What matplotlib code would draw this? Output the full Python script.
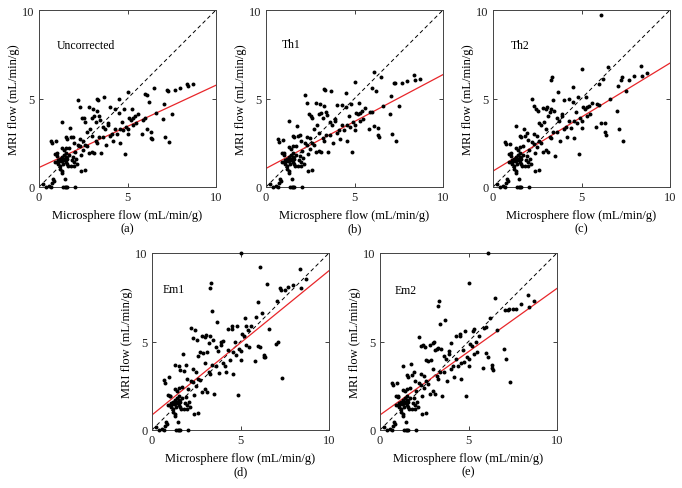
import matplotlib
matplotlib.use("Agg")
import matplotlib.pyplot as plt

# Microsphere flow (same samples in every panel)
micro = [0.25, 0.4, 0.55, 0.65, 0.75, 0.8, 0.85, 1.35, 1.45, 1.55,
         1.6, 2.05, 1.45, 1.3, 0.65, 0.75, 0.95, 1.3, 0.9, 1.0,
         1.05, 1.0, 1.1, 1.1, 1.2, 1.2, 1.25, 1.3, 1.3, 1.35,
         1.4, 1.4, 1.45, 1.5, 1.5, 1.55, 1.6, 1.6, 1.65, 1.7,
         1.8, 1.2, 1.3, 1.0, 0.9, 1.4, 1.3, 1.5, 1.7, 1.5,
         1.6, 1.75, 1.8, 1.9, 2.0, 2.05, 2.1, 2.15, 2.2, 2.3,
         2.35, 2.6, 2.2, 2.3, 2.45, 2.55, 2.6, 2.7, 2.8, 2.9,
         3.0, 3.05, 3.1, 3.2, 3.25, 3.35, 3.3, 3.4, 3.45, 3.6,
         3.7, 3.75, 3.8, 3.9, 4.0, 4.1, 4.2, 4.3, 4.5, 4.5,
         4.6, 4.7, 4.75, 4.8, 4.85, 4.9, 5.0, 5.0, 5.1, 5.2,
         5.25, 5.3, 5.4, 5.5, 5.6, 5.8, 5.9, 6.0, 6.0, 6.1,
         6.1, 6.2, 6.3, 6.35, 6.4, 6.5, 6.6, 7.0, 7.05, 7.1,
         7.3, 7.25, 7.35, 7.5, 7.7, 7.95, 8.35, 8.4, 8.7, 2.5,
         2.6, 2.8, 3.0, 3.2, 3.1, 3.4, 3.5, 3.3, 2.7, 2.4,
         1.9, 1.95, 2.0, 1.85, 2.3, 2.5, 4.4, 3.9, 3.6, 4.0,
         4.6, 5.05, 5.3, 4.3, 3.0]

mri_uncorr = [0.15, 0.0, 0.05, 0.0, 0.2, 0.45, 0.35, 0.0, 0.0, 0.0,
              0.0, 0.0, 0.45, 0.8, 2.6, 2.5, 2.6, 3.7, 1.85, 1.75,
              1.4, 1.4, 1.3, 1.5, 1.6, 1.2, 1.45, 1.5, 1.7, 1.3,
              1.6, 1.8, 1.5, 1.4, 1.7, 1.9, 1.6, 1.3, 1.2, 1.8,
              1.2, 1.0, 0.9, 1.9, 1.4, 2.1, 2.2, 2.2, 2.2, 2.8,
              2.7, 3.35, 2.8, 2.85, 2.5, 2.0, 1.6, 1.3, 2.4, 2.3,
              0.9, 0.95, 4.9, 4.5, 3.9, 3.9, 3.7, 3.1, 4.5, 3.3,
              3.9, 4.4, 4.0, 3.7, 5.0, 4.9, 4.3, 4.0, 3.8, 3.4,
              5.1, 3.3, 2.4, 3.5, 4.5, 3.0, 2.6, 4.4, 5.0, 4.2,
              3.3, 3.7, 3.2, 4.4, 1.85, 3.4, 5.35, 3.0, 3.9, 3.8,
              4.4, 3.9, 4.0, 3.6, 4.1, 3.0, 3.8, 5.25, 3.9, 5.2,
              3.3, 4.8, 3.1, 2.75, 2.7, 5.6, 4.2, 3.85, 4.7, 2.8,
              5.4, 5.5, 2.55, 4.1, 5.5, 5.6, 5.8, 5.7, 5.8, 2.1,
              2.4, 1.9, 2.0, 2.6, 1.9, 2.8, 1.9, 2.5, 2.3, 1.8,
              1.7, 1.4, 1.2, 1.5, 2.7, 2.6, 3.0, 3.6, 2.8, 2.9,
              2.5, 3.3, 3.5, 3.3, 2.9]

mri_th1 = [0.15, 0.0, 0.05, 0.0, 0.2, 0.45, 0.35, 0.0, 0.0, 0.0,
           0.0, 0.0, 0.45, 0.8, 2.7, 2.55, 2.65, 3.75, 1.9, 1.8,
           1.4, 1.4, 1.3, 1.5, 1.6, 1.2, 1.45, 1.5, 1.7, 1.3,
           1.6, 1.8, 1.5, 1.4, 1.7, 1.9, 1.6, 1.3, 1.2, 1.8,
           1.2, 1.0, 0.9, 1.9, 1.4, 2.15, 2.25, 2.3, 2.3, 2.9,
           2.85, 3.45, 2.9, 2.95, 2.6, 2.05, 1.65, 1.3, 2.5, 2.4,
           0.9, 0.95, 5.2, 4.75, 4.15, 4.0, 3.9, 3.25, 4.75, 3.5,
           4.1, 4.7, 4.2, 3.9, 5.55, 5.5, 4.6, 4.25, 4.05, 3.65,
           5.45, 3.5, 2.5, 3.75, 4.65, 3.2, 2.7, 4.65, 5.3, 4.5,
           3.5, 4.0, 3.4, 4.7, 1.95, 3.65, 5.95, 3.2, 4.2, 4.1,
           4.75, 4.2, 4.3, 3.85, 4.45, 3.3, 4.25, 5.6, 4.25, 6.5,
           3.45, 5.45, 3.35, 2.95, 2.85, 6.2, 4.55, 4.15, 5.15, 3.0,
           5.9, 5.85, 2.6, 4.6, 5.85, 6.0, 6.35, 6.05, 6.1, 2.15,
           2.5, 1.95, 2.05, 2.75, 2.0, 2.95, 1.95, 2.6, 2.4, 1.85,
           1.75, 1.4, 1.2, 1.5, 2.85, 2.75, 3.2, 3.85, 2.95, 3.05,
           2.6, 3.5, 3.75, 3.5, 3.05]

mri_th2 = [0.15, 0.0, 0.05, 0.0, 0.2, 0.45, 0.35, 0.0, 0.0, 0.0,
           0.0, 0.0, 0.45, 0.8, 2.55, 2.45, 2.45, 3.45, 1.85, 1.75,
           1.4, 1.4, 1.3, 1.5, 1.6, 1.2, 1.45, 1.5, 1.7, 1.3,
           1.6, 1.8, 1.5, 1.4, 1.7, 1.9, 1.6, 1.3, 1.2, 1.8,
           1.2, 1.0, 0.9, 1.9, 1.4, 2.1, 2.2, 2.25, 2.3, 2.9,
           2.8, 3.3, 2.9, 3.05, 2.65, 2.1, 1.6, 1.3, 2.55, 2.45,
           0.9, 0.95, 5.0, 4.55, 4.4, 4.3, 3.6, 3.5, 4.45, 3.65,
           4.4, 4.5, 4.0, 4.25, 6.05, 6.2, 4.4, 4.9, 4.3, 3.9,
           5.35, 3.75, 2.6, 4.0, 4.9, 3.4, 2.85, 5.0, 5.65, 4.8,
           3.75, 4.25, 3.6, 5.1, 1.85, 3.9, 6.65, 3.35, 4.5, 4.4,
           5.1, 4.5, 4.6, 4.15, 4.75, 3.4, 4.7, 5.8, 4.65, 9.7,
           3.6, 6.1, 3.6, 3.1, 2.95, 6.8, 5.0, 4.3, 5.7, 3.3,
           6.2, 6.05, 2.6, 5.4, 6.05, 6.25, 6.85, 6.25, 6.45, 2.25,
           2.6, 2.0, 2.1, 2.85, 2.0, 3.1, 1.75, 2.75, 2.5, 1.9,
           1.75, 1.4, 1.2, 1.5, 3.0, 2.9, 3.35, 4.1, 3.1, 3.25,
           2.75, 3.75, 4.0, 3.75, 3.25]

mri_em1 = [0.15, 0.0, 0.05, 0.0, 0.2, 0.45, 0.35, 0.0, 0.0, 0.0,
           0.0, 0.0, 0.45, 0.8, 2.85, 2.65, 3.0, 3.7, 1.95, 1.9,
           1.4, 1.4, 1.3, 1.5, 1.6, 1.2, 1.45, 1.5, 1.7, 1.3,
           1.6, 1.8, 1.5, 1.4, 1.7, 1.9, 1.6, 1.3, 1.2, 1.8,
           1.2, 1.0, 0.9, 1.9, 1.4, 2.2, 2.3, 2.4, 2.45, 3.6,
           3.4, 4.3, 3.35, 3.7, 2.9, 2.3, 1.6, 1.3, 2.75, 2.7,
           0.9, 0.95, 5.75, 5.2, 5.65, 5.1, 4.2, 4.4, 5.3, 4.35,
           5.25, 5.35, 4.4, 4.9, 8.0, 8.3, 5.3, 6.7, 5.1, 4.7,
           6.1, 4.45, 3.2, 4.8, 5.05, 3.6, 3.3, 5.7, 5.9, 5.7,
           4.4, 4.95, 4.25, 5.9, 2.0, 4.6, 10.0, 3.95, 5.4, 5.3,
           6.3, 5.9, 5.65, 4.7, 5.85, 3.9, 6.4, 7.25, 4.75, 9.2,
           4.7, 6.6, 4.25, 4.15, 4.1, 8.25, 5.7, 4.85, 7.3, 5.0,
           7.9, 8.0, 2.95, 7.9, 8.1, 8.2, 9.1, 8.0, 8.55, 2.5,
           2.9, 2.15, 2.3, 3.3, 2.15, 3.65, 2.05, 3.15, 2.8, 2.0,
           1.85, 1.4, 1.2, 1.5, 3.45, 3.3, 3.95, 4.95, 3.6, 3.8,
           3.15, 4.45, 4.8, 4.5, 3.8]

mri_em2 = [0.15, 0.0, 0.05, 0.0, 0.2, 0.45, 0.35, 0.0, 0.0, 0.0,
           0.0, 0.0, 0.45, 0.8, 2.65, 2.55, 2.65, 3.6, 1.9, 1.85,
           1.4, 1.4, 1.3, 1.5, 1.6, 1.2, 1.45, 1.5, 1.7, 1.3,
           1.6, 1.8, 1.5, 1.4, 1.7, 1.9, 1.6, 1.3, 1.2, 1.8,
           1.2, 1.0, 0.9, 1.9, 1.4, 2.2, 2.25, 2.3, 2.35, 3.1,
           3.0, 3.75, 3.1, 3.3, 2.75, 2.2, 1.6, 1.3, 2.65, 2.55,
           0.9, 0.95, 5.25, 4.75, 4.8, 4.7, 3.95, 3.9, 4.8, 3.95,
           4.9, 4.95, 4.5, 4.6, 7.0, 7.3, 4.65, 6.0, 4.6, 4.2,
           6.2, 4.0, 2.75, 4.3, 4.9, 3.6, 3.0, 5.3, 5.45, 5.3,
           3.8, 4.5, 3.85, 5.6, 1.9, 4.15, 8.3, 3.6, 4.85, 4.75,
           5.6, 5.7, 5.0, 4.4, 5.3, 3.5, 5.75, 5.8, 4.35, 10.0,
           4.15, 6.3, 3.7, 3.5, 3.4, 7.45, 5.65, 4.6, 6.8, 4.0,
           6.85, 6.8, 2.7, 6.85, 6.85, 7.1, 7.6, 6.95, 7.3, 2.35,
           2.75, 2.05, 2.2, 3.05, 2.05, 3.3, 1.9, 2.9, 2.6, 1.9,
           1.8, 1.4, 1.2, 1.5, 3.15, 3.05, 3.6, 4.45, 3.3, 3.45,
           2.9, 4.0, 4.3, 4.0, 3.45]

# regression lines: (intercept, value at x = 10)
fit_uncorr = (1.1, 5.75)
fit_th1 = (1.05, 6.35)
fit_th2 = (0.9, 7.0)
fit_em1 = (0.85, 9.0)
fit_em2 = (0.85, 8.0)

names = ["Uncorrected", "Th1", "Th2", "Em1", "Em2"]
letters = ["(a)", "(b)", "(c)", "(d)", "(e)"]
name_pos = [(1.0, 8.0), (0.9, 8.1), (1.0, 8.0), (0.6, 7.95), (0.85, 7.9)]
all_mri = [mri_uncorr, mri_th1, mri_th2, mri_em1, mri_em2]
all_fit = [fit_uncorr, fit_th1, fit_th2, fit_em1, fit_em2]

# axes boxes in pixels (left, top) -- all 177 px square
W, H = 682, 489
boxes = [(39, 11), (266, 11), (493, 11), (152, 254), (380, 254)]
side = 177

plt.rcParams['font.family'] = ['Liberation Serif', 'DejaVu Serif']
plt.rcParams['font.size'] = 9

fig = plt.figure(figsize=(W / 100, H / 100), dpi=100)

for i in range(5):
    left, top = boxes[i]
    ax = fig.add_axes([left / W, (H - top - side) / H, side / W, side / H])

    # identity line
    ax.plot([0, 10], [0, 10], color='black', linestyle=(0, (4, 3)), linewidth=0.7)
    # fitted line
    b0, b10 = all_fit[i]
    ax.plot([0, 10], [b0, b10], color='#e8262a', linewidth=0.9)
    ax.scatter(micro, all_mri[i], s=8, color='black', linewidths=0, zorder=3, clip_on=False)

    ax.set_xlim(0, 10)
    ax.set_ylim(0, 10)
    ax.set_xticks([0, 5, 10])
    ax.set_yticks([0, 5, 10])
    ax.tick_params(direction='in', length=3, width=0.6, top=True, right=True,
                   labelsize=9, pad=3, colors='#222222')
    for sp in ax.spines.values():
        sp.set_linewidth(0.7)
        sp.set_color('#444444')

    ax.text(name_pos[i][0], name_pos[i][1], names[i], fontsize=8.5, va='center', ha='left')
    ax.set_xlabel("Microsphere flow (mL/min/g)", fontsize=9, labelpad=4)
    ax.set_ylabel("MRI flow (mL/min/g)", fontsize=9, labelpad=2)

    # panel letter under the axes
    fig.text((left + side / 2) / W, 1 - (top + side + 41) / H, letters[i],
             ha='center', va='center', fontsize=9)

fig.savefig("out.png", dpi=100)
